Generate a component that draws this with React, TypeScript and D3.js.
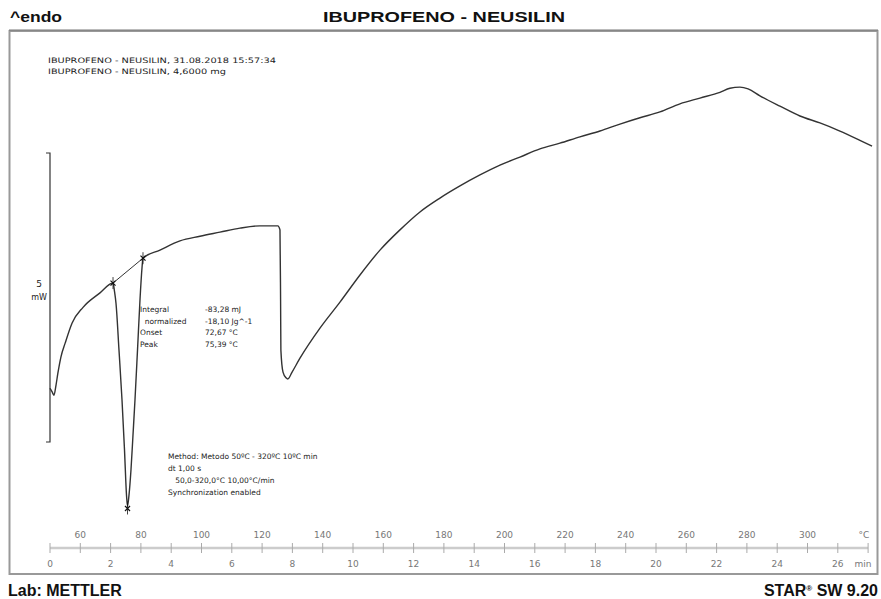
import React from "react";
import * as d3 from "d3";

// ---- data ----
const timeMin = [
  0, 0.066, 0.13, 0.2, 0.26, 0.36, 0.5, 0.73, 1.09, 1.65, 2.08,
  2.13, 2.178, 2.277, 2.376, 2.459, 2.525, 2.558, 2.607, 2.673, 2.739, 2.805, 2.888, 2.97, 3.036, 3.069,
  3.63, 4.29, 4.95, 5.61, 6.27, 6.93, 7.52, 7.59, 7.61, 7.62, 7.69, 7.79, 7.85, 7.99, 8.25,
  8.91, 9.57, 10.23, 10.89, 11.55, 12.21, 12.87, 13.53, 14.19, 14.85, 15.51, 16.17, 16.83,
  17.49, 18.15, 18.81, 19.47, 20.13, 20.79, 21.45, 22.11, 22.44, 22.77, 23.04, 23.43, 24.09,
  24.75, 25.41, 26.07, 26.73, 27.13,
];
const heatFlow = [
  -5.07, -5.13, -5.19, -5.01, -4.81, -4.53, -4.29, -3.94, -3.67, -3.42, -3.25,
  -3.4, -3.6, -4.41, -5.27, -6.14, -6.92, -7.11, -6.92, -6.48, -5.88, -5.27, -4.41, -3.54, -2.99, -2.82,
  -2.68, -2.52, -2.44, -2.37, -2.3, -2.26, -2.26, -2.33, -3.54, -4.41, -4.79, -4.89, -4.91, -4.79, -4.55,
  -4.03, -3.58, -3.11, -2.68, -2.33, -2.02, -1.78, -1.57, -1.38, -1.21, -1.07, -0.93, -0.83,
  -0.72, -0.62, -0.5, -0.39, -0.29, -0.15, -0.05, 0.05, 0.12, 0.14, 0.11, -0.01, -0.19,
  -0.36, -0.48, -0.62, -0.78, -0.88,
];
const markerTimes = [2.08, 3.069, 2.558];
const markerValues = [-3.25, -2.82, -7.15];
const minTicks = d3.range(0, 28, 1);
const minLabels = [0, 2, 4, 6, 8, 10, 12, 14, 16, 18, 20, 22, 24, 26];
const tempLabels = [60, 80, 100, 120, 140, 160, 180, 200, 220, 240, 260, 280, 300];
const startTemp = 50;
const heatingRate = 10;
const scaleBar = [-6, -1];

const headerLines = [
  "IBUPROFENO - NEUSILIN, 31.08.2018 15:57:34",
  "IBUPROFENO - NEUSILIN, 4,6000 mg",
];
const resultLabels = ["Integral", "  normalized", "Onset", "Peak"];
const resultValues = ["-83,28 mJ", "-18,10 Jg^-1", "72,67 °C", "75,39 °C"];
const methodLines = [
  "Method: Metodo 50ºC - 320ºC 10ºC min",
  "dt 1,00 s",
  "   50,0-320,0°C 10,00°C/min",
  "Synchronization enabled",
];

export default function App() {
  const W = 881, H = 599;
  const x = d3.scaleLinear().domain([0, 27]).range([50, 50 + 27 * 30.3]);
  const y = d3.scaleLinear().domain(scaleBar).range([442, 153]);
  const pts = timeMin.map((t, i) => [t, heatFlow[i]] as [number, number]);
  const line = d3
    .line<[number, number]>()
    .x((d) => x(d[0]))
    .y((d) => y(d[1]))
    .curve(d3.curveMonotoneX);
  const axisY = 548;
  const font = "'DejaVu Sans', sans-serif";
  const small = { fontFamily: font, fontSize: 7.5, fill: "#222" } as any;

  return (
    <svg width={W} height={H} style={{ position: "absolute", left: 0, top: 0, background: "#fff" }}>
      <rect x={0} y={0} width={W} height={H} fill="#fff" />
      {/* header */}
      <text x={10} y={22} fontFamily="'Liberation Sans', Arial, sans-serif" fontWeight="bold" fontSize={15} fill="#111" textLength={52} lengthAdjust="spacingAndGlyphs">^endo</text>
      <text x={323} y={22} fontFamily="'Liberation Sans', Arial, sans-serif" fontWeight="bold" fontSize={15} fill="#111" textLength={242} lengthAdjust="spacingAndGlyphs">IBUPROFENO - NEUSILIN</text>
      {/* frame */}
      <rect x={9.5} y={31} width={868} height={543} fill="none" stroke="#999" strokeWidth={2} />
      <line x1={9} y1={30} x2={878} y2={30} stroke="#777" strokeWidth={1} />
      {/* header text */}
      {headerLines.map((s, i) => (
        <text key={i} x={48} y={63 + i * 11} {...small} textLength={i === 0 ? 228 : 178} lengthAdjust="spacingAndGlyphs">{s}</text>
      ))}
      {/* scale bar */}
      <path d={`M${46},${y(scaleBar[1])}H${50}V${y(scaleBar[0])}H${46}`} fill="none" stroke="#333" strokeWidth={1.2} />
      <text x={39} y={287} {...small} fontSize={9} textAnchor="middle">5</text>
      <text x={39} y={300} {...small} fontSize={8} textAnchor="middle">mW</text>
      {/* curve */}
      <path d={line(pts) || ""} fill="none" stroke="#333" strokeWidth={1.4} strokeLinejoin="round" />
      {/* baseline between onset markers */}
      <line x1={x(markerTimes[0])} y1={y(markerValues[0])} x2={x(markerTimes[1])} y2={y(markerValues[1])} stroke="#333" strokeWidth={1} />
      {markerTimes.map((t, i) => {
        const cx = x(t), cy = y(markerValues[i]);
        return (
          <g key={i} stroke="#111" strokeWidth={1.2}>
            <line x1={cx - 2.5} y1={cy - 2.5} x2={cx + 2.5} y2={cy + 2.5} />
            <line x1={cx - 2.5} y1={cy + 2.5} x2={cx + 2.5} y2={cy - 2.5} />
            <line x1={cx} y1={cy - 6} x2={cx} y2={cy + 6} strokeWidth={0.8} />
          </g>
        );
      })}
      {/* results */}
      {resultLabels.map((s, i) => (
        <text key={"l" + i} x={140} y={312 + i * 11.7} {...small} style={{ whiteSpace: "pre" }}>{s}</text>
      ))}
      {resultValues.map((s, i) => (
        <text key={"v" + i} x={205} y={312 + i * 11.7} {...small}>{s}</text>
      ))}
      {/* method */}
      {methodLines.map((s, i) => (
        <text key={"m" + i} x={168} y={459 + i * 12} {...small} style={{ whiteSpace: "pre" }}>{s}</text>
      ))}
      {/* axis */}
      <line x1={x(0)} y1={axisY} x2={x(27)} y2={axisY} stroke="#ccc" strokeWidth={2.5} />
      {minTicks.map((t) => (
        <line key={t} x1={x(t)} y1={axisY - 5} x2={x(t)} y2={axisY + 5} stroke="#aaa" strokeWidth={1} />
      ))}
      {minLabels.map((t) => (
        <text key={t} x={x(t)} y={567} fontFamily={font} fontSize={9} fill="#777" textAnchor="middle">{t}</text>
      ))}
      <text x={863} y={567} fontFamily={font} fontSize={9} fill="#777" textAnchor="middle">min</text>
      {tempLabels.map((T) => (
        <text key={T} x={x((T - startTemp) / heatingRate)} y={538} fontFamily={font} fontSize={9} fill="#777" textAnchor="middle">{T}</text>
      ))}
      <text x={864} y={538} fontFamily={font} fontSize={9} fill="#777" textAnchor="middle">°C</text>
      {/* footer */}
      <text x={8} y={596} fontFamily="'Liberation Sans', Arial, sans-serif" fontWeight="bold" fontSize={16} fill="#111">Lab: METTLER</text>
      <text x={878} y={596} fontFamily="'Liberation Sans', Arial, sans-serif" fontWeight="bold" fontSize={16} fill="#111" textAnchor="end">
        STAR<tspan fontSize={8} dy={-5}>®</tspan><tspan dy={5}> SW 9.20</tspan>
      </text>
    </svg>
  );
}
